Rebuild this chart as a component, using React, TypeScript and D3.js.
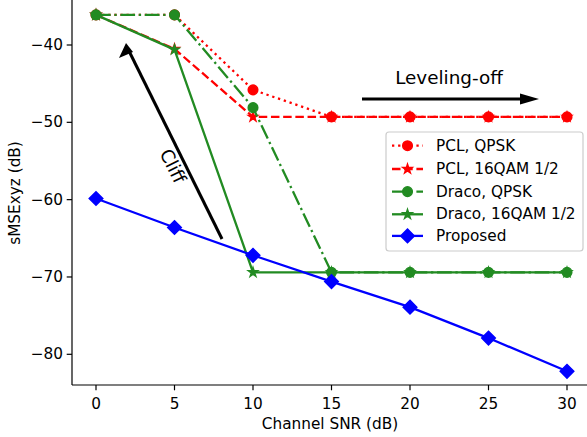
import React from "react";
import * as d3 from "d3";

const snr = [0, 5, 10, 15, 20, 25, 30];
const pclQpsk = [-36.1, -36.1, -45.8, -49.3, -49.3, -49.3, -49.3];
const pcl16qam = [-36.1, -40.5, -49.3, -49.3, -49.3, -49.3, -49.3];
const dracoQpsk = [-36.1, -36.1, -48.1, -69.4, -69.4, -69.4, -69.4];
const draco16qam = [-36.1, -40.6, -69.4, -69.4, -69.4, -69.4, -69.4];
const proposed = [-59.85, -63.6, -67.2, -70.6, -73.9, -77.9, -82.2];
const xTicks = [0, 5, 10, 15, 20, 25, 30];
const yTicks = [-80, -70, -60, -50, -40];

const W = 587;
const H = 437;
const FONT = "DejaVu Sans, sans-serif";
const FS = 15.3;
const LW = 2.3;
const MS = 9.6;

type Marker = "circle" | "star" | "diamond";
interface Series {
  name: string;
  values: number[];
  color: string;
  dash: string;
  marker: Marker;
}

const series: Series[] = [
  { name: "PCL, QPSK", values: pclQpsk, color: "#ff0000", dash: "2.3,3.8", marker: "circle" },
  { name: "PCL, 16QAM 1/2", values: pcl16qam, color: "#ff0000", dash: "8.5,3.7", marker: "star" },
  { name: "Draco, QPSK", values: dracoQpsk, color: "#228B22", dash: "14.7,3.7,2.3,3.7", marker: "circle" },
  { name: "Draco, 16QAM 1/2", values: draco16qam, color: "#228B22", dash: "", marker: "star" },
  { name: "Proposed", values: proposed, color: "#0000ff", dash: "", marker: "diamond" },
];

const x = d3.scaleLinear().domain([0, 30]).range([96, 567]);
const y = d3.scaleLinear().domain([-80, -40]).range([354.3, 45]);

const starPath = (() => {
  const pts: string[] = [];
  const R = MS / 2;
  const r = R * 0.381966;
  for (let i = 0; i < 10; i++) {
    const a = -Math.PI / 2 + (i * Math.PI) / 5;
    const rad = i % 2 === 0 ? R : r;
    pts.push(`${(rad * Math.cos(a)).toFixed(2)},${(rad * Math.sin(a)).toFixed(2)}`);
  }
  return "M" + pts.join("L") + "Z";
})();

const diamondPath = (() => {
  const d = (MS * Math.SQRT2) / 2;
  return `M0,${-d}L${d},0L0,${d}L${-d},0Z`;
})();

function MarkerShape({ kind, cx, cy, color }: { kind: Marker; cx: number; cy: number; color: string }) {
  if (kind === "circle")
    return <circle cx={cx} cy={cy} r={MS / 2} fill={color} stroke={color} strokeWidth={1.5} />;
  const d = kind === "star" ? starPath : diamondPath;
  return (
    <path d={d} transform={`translate(${cx},${cy})`} fill={color} stroke={color} strokeWidth={1.5} strokeLinejoin="miter" />
  );
}

const fmt = (v: number) => (v < 0 ? "\u2212" + Math.abs(v) : String(v));

export default function App() {
  const line = d3
    .line<number>()
    .x((_, i) => x(snr[i]))
    .y((d) => y(d));

  const legendX = 386;
  const legendY = 132;
  const legendRows = [145.7, 169, 191.6, 214.3, 235.9];

  return (
    <svg width={W} height={H} style={{ position: "absolute", left: 0, top: 0, background: "#fff" }} fontFamily={FONT}>
      <rect x={0} y={0} width={W} height={H} fill="#fff" />

      {/* series */}
      {series.map((s) => (
        <g key={s.name}>
          <path
            d={line(s.values) || ""}
            fill="none"
            stroke={s.color}
            strokeWidth={LW}
            strokeDasharray={s.dash || undefined}
            strokeLinejoin="round"
          />
          {s.values.map((v, i) => (
            <MarkerShape key={i} kind={s.marker} cx={x(snr[i])} cy={y(v)} color={s.color} />
          ))}
        </g>
      ))}

      {/* annotations */}
      <line x1={222} y1={239} x2={129} y2={51} stroke="#000" strokeWidth={3} />
      <path d="M126,43 L119,58 L133,52 Z" fill="#000" />
      <text x={173} y={166} fontSize={FS * 1.2} textAnchor="middle" dominantBaseline="central" transform="rotate(63.7,173,166)">
        Cliff
      </text>
      <line x1={362} y1={99} x2={522} y2={99} stroke="#000" strokeWidth={3} />
      <path d="M539,99 L520,93.5 L520,104.5 Z" fill="#000" />
      <text x={449} y={77} fontSize={FS * 1.2} textAnchor="middle" dominantBaseline="central">
        Leveling-off
      </text>

      {/* axes */}
      <line x1={72} y1={0} x2={72} y2={385} stroke="#000" strokeWidth={1.2} />
      <line x1={72} y1={385} x2={W} y2={385} stroke="#000" strokeWidth={1.2} />
      {xTicks.map((t) => (
        <g key={t}>
          <line x1={x(t)} x2={x(t)} y1={385} y2={390.3} stroke="#000" strokeWidth={1.2} />
          <text x={x(t)} y={409} fontSize={FS} textAnchor="middle">
            {fmt(t)}
          </text>
        </g>
      ))}
      {yTicks.map((t) => (
        <g key={t}>
          <line x1={66.7} x2={72} y1={y(t)} y2={y(t)} stroke="#000" strokeWidth={1.2} />
          <text x={63} y={y(t)} fontSize={FS} textAnchor="end" dominantBaseline="central">
            {fmt(t)}
          </text>
        </g>
      ))}
      <text x={330} y={429} fontSize={FS} textAnchor="middle">
        Channel SNR (dB)
      </text>
      <text transform="translate(20,193) rotate(-90)" fontSize={FS} textAnchor="middle">
        sMSExyz (dB)
      </text>

      {/* legend */}
      <rect x={legendX} y={legendY} width={197} height={119} rx={3} fill="#fff" fillOpacity={0.8} stroke="#cccccc" strokeWidth={1.2} />
      {series.map((s, i) => (
        <g key={s.name}>
          <line
            x1={392}
            x2={423}
            y1={legendRows[i]}
            y2={legendRows[i]}
            stroke={s.color}
            strokeWidth={LW}
            strokeDasharray={s.dash || undefined}
          />
          <MarkerShape kind={s.marker} cx={407.5} cy={legendRows[i]} color={s.color} />
          <text x={436} y={legendRows[i]} fontSize={FS} dominantBaseline="central">
            {s.name}
          </text>
        </g>
      ))}
    </svg>
  );
}
